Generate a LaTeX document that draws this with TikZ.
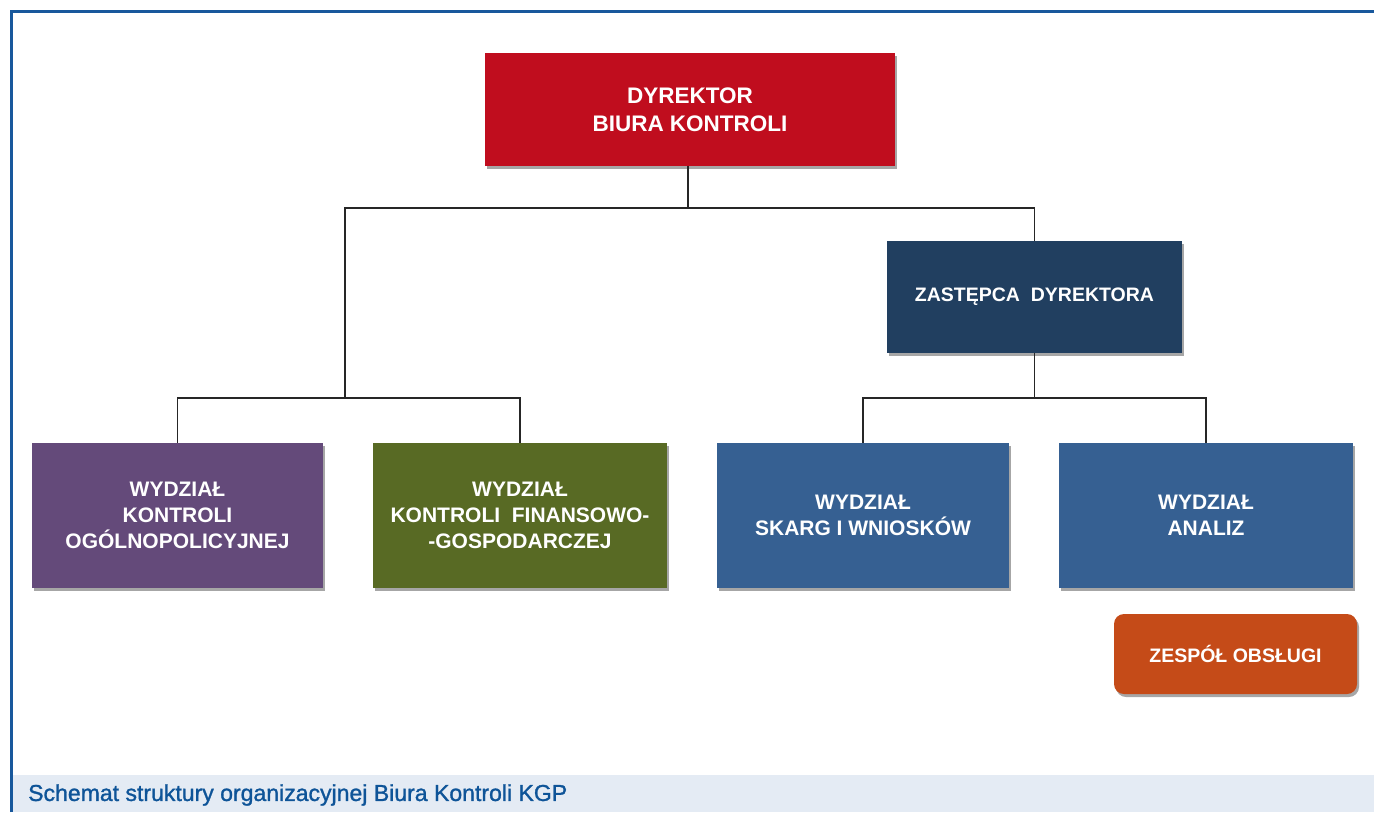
\documentclass[tikz,border=0pt]{standalone}
\usepackage{fontspec}
\setmainfont{Liberation Sans}
\newfontfamily\capfont[FakeBold=1.2]{Liberation Sans}
\usetikzlibrary{shadows}
\definecolor{frameblue}{RGB}{24,88,156}
\definecolor{bandbg}{RGB}{228,235,244}
\definecolor{captxt}{RGB}{14,84,152}
\definecolor{dirred}{RGB}{192,13,30}
\definecolor{navy}{RGB}{33,63,96}
\definecolor{purp}{RGB}{100,74,122}
\definecolor{olive}{RGB}{88,106,36}
\definecolor{midblue}{RGB}{54,96,146}
\definecolor{orng}{RGB}{197,75,24}
\tikzset{
  orgbox/.style={rectangle, inner sep=0pt, align=center, text=white,
    drop shadow={shadow xshift=2pt, shadow yshift=-3pt, opacity=0.35, fill=black},
    font=\fontsize{21}{26}\selectfont\bfseries},
  conn/.style={draw=black!85, line width=1.8pt},
}
\begin{document}
\begin{tikzpicture}[x=1pt,y=-1pt]
\useasboundingbox (0,0) rectangle (1374,812);
% frame and caption band
\fill[bandbg] (13,775) rectangle (1374,812);
\draw[frameblue, line width=3pt] (11.5,812) -- (11.5,11.5) -- (1374,11.5);
\node[anchor=west, text=captxt, inner sep=0pt] (cap) at (28,795)
  {\resizebox{539pt}{!}{\capfont\fontsize{20}{24}\selectfont Schemat struktury organizacyjnej Biura Kontroli KGP}};
% boxes
\node[orgbox, fill=dirred, minimum width=410pt, minimum height=113pt,
  font=\fontsize{22.5}{28}\selectfont\bfseries] (dir) at (690,109.5) {DYREKTOR\\BIURA KONTROLI};
\node[orgbox, fill=navy, minimum width=295pt, minimum height=112pt,
  font=\fontsize{19.5}{24}\selectfont\bfseries] (zast) at (1034.5,297) {ZASTĘPCA\ \ DYREKTORA};
\node[orgbox, fill=purp, minimum width=291pt, minimum height=145pt] (ogol) at (177.5,515.5)
  {WYDZIAŁ\\KONTROLI\\OGÓLNOPOLICYJNEJ};
\node[orgbox, fill=olive, minimum width=294pt, minimum height=145pt] (fin) at (520,515.5)
  {WYDZIAŁ\\KONTROLI\ \ FINANSOWO-\\-GOSPODARCZEJ};
\node[orgbox, fill=midblue, minimum width=292pt, minimum height=145pt] (skarg) at (863,515.5)
  {WYDZIAŁ\\SKARG I WNIOSKÓW};
\node[orgbox, fill=midblue, minimum width=294pt, minimum height=145pt] (anal) at (1206,515.5)
  {WYDZIAŁ\\ANALIZ};
\node[orgbox, fill=orng, rounded corners=10pt, minimum width=243pt, minimum height=80pt,
  font=\fontsize{19.5}{24}\selectfont\bfseries] (zesp) at (1235.5,654) {ZESPÓŁ OBSŁUGI};
% connectors
\coordinate (j1) at (688,208);
\coordinate (bl) at (345,398);
\coordinate (br) at (1034.5,398);
\draw[conn] (dir.south -| j1) -- (j1);
\draw[conn] (j1) -| (zast.north);
\draw[conn] (j1) -| (bl);
\draw[conn] (ogol.north) |- (bl) -| (fin.north);
\draw[conn] (zast.south) -- (br);
\draw[conn] (skarg.north) |- (br) -| (anal.north);
\end{tikzpicture}
\end{document}
